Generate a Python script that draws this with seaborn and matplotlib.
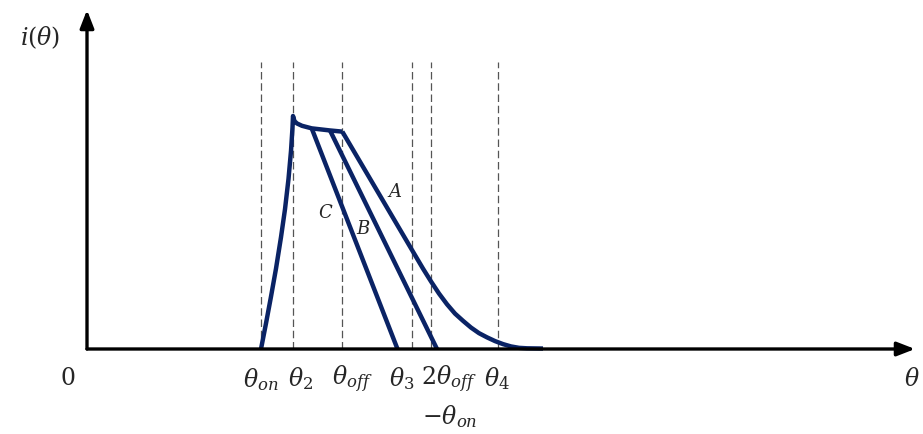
import matplotlib
matplotlib.use("Agg")
import matplotlib.pyplot as plt
import seaborn as sns
import pandas as pd

sns.set_theme(style="white")
plt.rcParams["font.family"] = ["DejaVu Serif"]
plt.rcParams["mathtext.fontset"] = "dejavuserif"

NAVY = "#0a2365"

# rising edge from turn-on to the peak at theta_2
rise_theta = [34.8, 35.8, 36.8, 37.8, 38.8, 39.6, 40.3, 40.8, 41.1, 41.2]
rise_i = [0.0, 0.110, 0.225, 0.345, 0.480, 0.600, 0.730, 0.850, 0.950, 1.0]

# slowly sagging top between theta_2 and theta_off
top_theta = [41.2, 41.5, 42.0, 43.0, 44.94, 48.6, 51.06]
top_i = [1.0, 0.978, 0.968, 0.958, 0.947, 0.938, 0.933]

# decay branches
c_theta = [44.94, 62.1]
c_i = [0.947, 0.0]
b_theta = [48.6, 70.0]
b_i = [0.938, 0.0]
a_theta = [51.06, 65.6, 67.2, 68.8, 70.4, 72.0, 73.6, 75.2, 76.8, 78.4,
           80.0, 81.6, 83.2, 84.8, 86.4, 88.0, 91.2]
a_i = [0.933, 0.403, 0.345, 0.290, 0.238, 0.192, 0.152, 0.121, 0.092, 0.068,
       0.050, 0.034, 0.021, 0.011, 0.005, 0.003, 0.002]

# angle markers on the theta axis
marks = [34.8, 41.2, 51.0, 65.0, 68.8, 82.2]
mark_top = 1.232

fig = plt.figure(figsize=(9.23, 4.34), dpi=100)
ax = fig.add_axes([0, 0, 1, 1])
ax.set_xlim(-17.4, 167.2)
ax.set_ylim(-0.3648, 1.4979)
ax.axis("off")

for m in marks:
    ax.plot([m, m], [0, mark_top], color="#555555", lw=0.9,
            linestyle=(0, (6, 3)), zorder=1)

for th, cur in [(rise_theta + top_theta[1:], rise_i + top_i[1:]),
                (c_theta, c_i), (b_theta, b_i), (a_theta, a_i)]:
    df = pd.DataFrame({"theta": th, "i": cur})
    sns.lineplot(data=df, x="theta", y="i", sort=False, ax=ax,
                 color=NAVY, lw=3.2, zorder=3,
                 solid_joinstyle="round", solid_capstyle="butt")
ax.set_xlabel("")
ax.set_ylabel("")

arrow = dict(arrowstyle="-|>,head_length=0.9,head_width=0.35",
             color="black", lw=2.4, shrinkA=0, shrinkB=0)
ax.annotate("", xy=(165.6, 0), xytext=(0, 0), arrowprops=arrow, zorder=4)
ax.annotate("", xy=(0, 1.455), xytext=(0, 0), arrowprops=arrow, zorder=4)

fs = 17
ax.text(-3.8, -0.125, "0", fontsize=fs, ha="center", va="center")
ax.text(34.8, -0.13, r"$\theta_{on}$", fontsize=fs, ha="center", va="center")
ax.text(42.8, -0.125, r"$\theta_{2}$", fontsize=fs, ha="center", va="center")
ax.text(53.0, -0.13, r"$\theta_{off}$", fontsize=fs, ha="center", va="center")
ax.text(63.0, -0.125, r"$\theta_{3}$", fontsize=fs, ha="center", va="center")
ax.text(72.4, -0.13, r"$2\theta_{off}$", fontsize=fs, ha="center", va="center")
ax.text(72.6, -0.29, r"$-\theta_{on}$", fontsize=fs, ha="center", va="center")
ax.text(82.0, -0.125, r"$\theta_{4}$", fontsize=fs, ha="center", va="center")
ax.text(165.0, -0.13, r"$\theta$", fontsize=fs, ha="center", va="center")
ax.text(-9.4, 1.335, r"$i(\theta)$", fontsize=fs, ha="center", va="center")

ax.text(61.6, 0.675, r"$A$", fontsize=13, ha="center", va="center")
ax.text(55.3, 0.515, r"$B$", fontsize=13, ha="center", va="center")
ax.text(47.8, 0.585, r"$C$", fontsize=13, ha="center", va="center")

fig.savefig("out.png", dpi=100)
